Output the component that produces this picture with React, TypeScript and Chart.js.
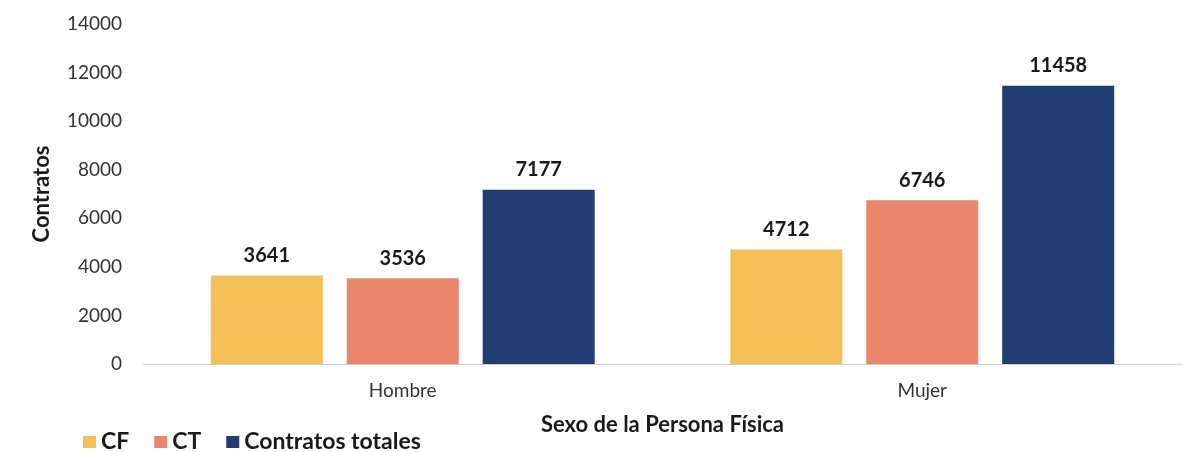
import React, { useEffect, useRef } from "react";
import { Chart, registerables } from "chart.js";

Chart.register(...registerables);

const categories = ["Hombre", "Mujer"];
const seriesNames = ["CF", "CT", "Contratos totales"];
const cfValues = [3641, 4712];
const ctValues = [3536, 6746];
const totalValues = [7177, 11458];
const seriesColors = ["#F4BF55", "#E9866B", "#223D72"];
const yTitle = "Contratos";
const xTitle = "Sexo de la Persona Física";

const FONT = "Lato, 'Open Sans', sans-serif";

const valueLabelPlugin = {
  id: "valueLabels",
  afterDatasetsDraw(chart: any) {
    const ctx = chart.ctx;
    ctx.save();
    ctx.font = `bold 20px ${FONT}`;
    ctx.fillStyle = "#1a1a1a";
    ctx.textAlign = "center";
    ctx.textBaseline = "bottom";
    chart.data.datasets.forEach((ds: any, i: number) => {
      const meta = chart.getDatasetMeta(i);
      meta.data.forEach((bar: any, j: number) => {
        ctx.fillText(String(ds.data[j]), bar.x, bar.y - 10);
      });
    });
    ctx.restore();
  },
};

const legendPlugin = {
  id: "customLegend",
  afterDraw(chart: any) {
    const ctx = chart.ctx;
    ctx.save();
    ctx.font = `bold 23px ${FONT}`;
    ctx.textBaseline = "middle";
    ctx.textAlign = "left";
    let x = 83;
    const y = 442;
    chart.data.datasets.forEach((ds: any) => {
      ctx.fillStyle = ds.backgroundColor;
      ctx.fillRect(x, y - 6, 13, 12);
      x += 18;
      ctx.fillStyle = "#1a1a1a";
      ctx.fillText(ds.label, x, y);
      x += ctx.measureText(ds.label).width + 25;
    });
    ctx.restore();
  },
};

export default function App() {
  const ref = useRef<HTMLCanvasElement>(null);
  useEffect(() => {
    if (!ref.current) return;
    const chart = new Chart(ref.current, {
      type: "bar",
      data: {
        labels: categories,
        datasets: [cfValues, ctValues, totalValues].map((d, i) => ({
          label: seriesNames[i],
          data: d,
          backgroundColor: seriesColors[i],
          categoryPercentage: 0.785,
          barPercentage: 0.824,
        })),
      },
      options: {
        animation: false,
        responsive: false,
        maintainAspectRatio: false,
        layout: { padding: { top: 24, left: 0, right: 0, bottom: 14 } },
        plugins: {
          legend: { display: false },
          tooltip: { enabled: false },
        },
        scales: {
          x: {
            grid: { display: false, drawTicks: false },
            border: { display: true, color: "#d0d0d0", width: 1 },
            ticks: { color: "#333333", font: { family: FONT, size: 19 }, padding: 15 },
            title: {
              display: true,
              text: xTitle,
              color: "#1a1a1a",
              font: { family: FONT, size: 22, weight: "bold" },
              padding: { top: 4, bottom: 0 },
            },
            afterFit(scale: any) {
              scale.height = 74;
              scale.paddingLeft = 0;
              scale.paddingRight = 0;
            },
          },
          y: {
            min: 0,
            max: 14000,
            grid: { display: false, drawTicks: false },
            border: { display: false },
            ticks: {
              stepSize: 2000,
              color: "#333333",
              font: { family: FONT, size: 19 },
              padding: 21,
              callback: (v: any) => String(v),
            },
            title: {
              display: true,
              text: yTitle,
              color: "#1a1a1a",
              font: { family: FONT, size: 22, weight: "bold" },
              padding: { top: 29, bottom: 0 },
            },
            afterFit(scale: any) {
              scale.width = 143;
              scale.paddingTop = 0;
              scale.paddingBottom = 0;
            },
          },
        },
      },
      plugins: [valueLabelPlugin, legendPlugin],
    });
    return () => chart.destroy();
  }, []);
  return (
    <div style={{ position: "absolute", left: 0, top: 0, width: 1182, height: 452 }}>
      <canvas ref={ref} width={1182} height={452} style={{ display: "block" }} />
    </div>
  );
}
